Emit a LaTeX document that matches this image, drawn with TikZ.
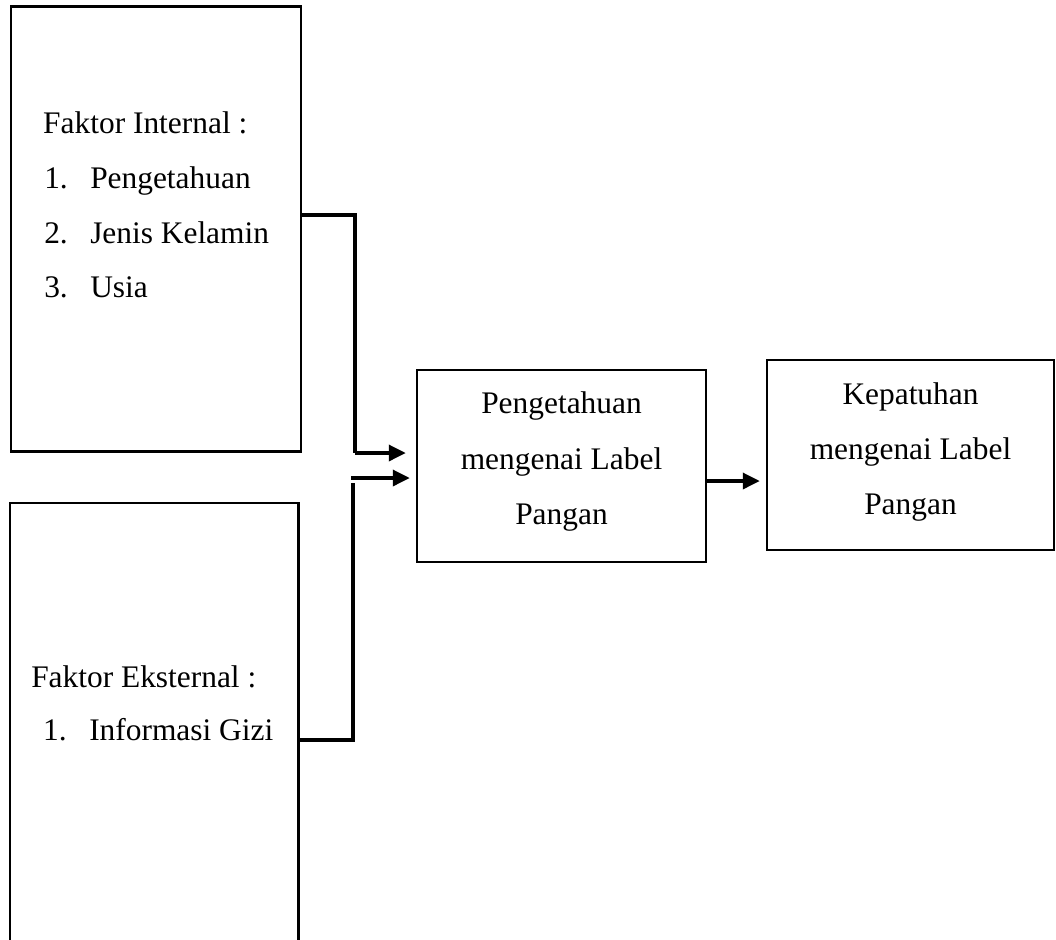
\documentclass[tikz,border=0pt]{standalone}
\usepackage{fontspec}
\setmainfont{Liberation Serif}
\usetikzlibrary{arrows.meta}
\begin{document}
\begin{tikzpicture}[x=0.5pt, y=-0.5pt, line width=1.25pt,
    box node/.style={rectangle,draw,inner sep=0pt},
    label node/.style={inner sep=0pt,font=\fontsize{15.7}{19}\selectfont},
    link/.style={line width=1.75pt},
    arrow link/.style={link,-{Triangle[length=8.5pt,width=8pt]}}]

    \clip (0,0) rectangle (1056,939);
    \useasboundingbox (0,0) rectangle (1056,939);

    \node[box node, minimum width=145pt, minimum height=222.5pt] at (156, 229) (int) {};
    \node[box node, minimum width=144.25pt, minimum height=228.5pt] at (154, 731.5) (eks) {};
    \node[box node, minimum width=144.5pt, minimum height=96pt] at (561.5, 466) (peng) {};
    \node[box node, minimum width=143.5pt, minimum height=95pt] at (910.5, 455) (patuh) {};

    \node[label node, anchor=base west] at (42, 133) (intTitle) {Faktor Internal :};
    \node[label node, anchor=base west] at (43, 188) (intNumA) {1.};
    \node[label node, anchor=base west] at (89, 188) (intItemA) {Pengetahuan};
    \node[label node, anchor=base west] at (43, 243) (intNumB) {2.};
    \node[label node, anchor=base west] at (89, 243) (intItemB) {Jenis Kelamin};
    \node[label node, anchor=base west] at (43, 297) (intNumC) {3.};
    \node[label node, anchor=base west] at (89, 297) (intItemC) {Usia};

    \node[label node, anchor=base west] at (30, 687) (eksTitle) {Faktor Eksternal :};
    \node[label node, anchor=base west] at (42, 740) (eksNumA) {1.};
    \node[label node, anchor=base west] at (88, 740) (eksItemA) {Informasi Gizi};

    \node[label node, anchor=base] at (561.5, 413) (pengA) {Pengetahuan};
    \node[label node, anchor=base] at (561.5, 469) (pengB) {mengenai Label};
    \node[label node, anchor=base] at (561.5, 524) (pengC) {Pangan};

    \node[label node, anchor=base] at (910.5, 404) (patuhA) {Kepatuhan};
    \node[label node, anchor=base] at (910.5, 459) (patuhB) {mengenai Label};
    \node[label node, anchor=base] at (910.5, 514) (patuhC) {Pangan};

    \coordinate (turnA) at (355, 215);
    \coordinate (turnB) at (355, 453);
    \coordinate (turnC) at (353, 740);
    \coordinate (turnD) at (353, 483);
    \coordinate (turnE) at (351, 478);

    \draw[link] (int.east |- turnA) -- (turnA) -- (turnB);
    \draw[arrow link, shorten >=5pt] (turnB) -- (peng.west |- turnB);
    \draw[link] (eks.east |- turnC) -- (turnC) -- (turnD);
    \draw[arrow link, shorten >=3pt] (turnE) -- (peng.west |- turnE);
    \draw[arrow link, shorten >=3pt] (peng.east |- 0,481) -- (patuh.west |- 0,481);
\end{tikzpicture}
\end{document}
